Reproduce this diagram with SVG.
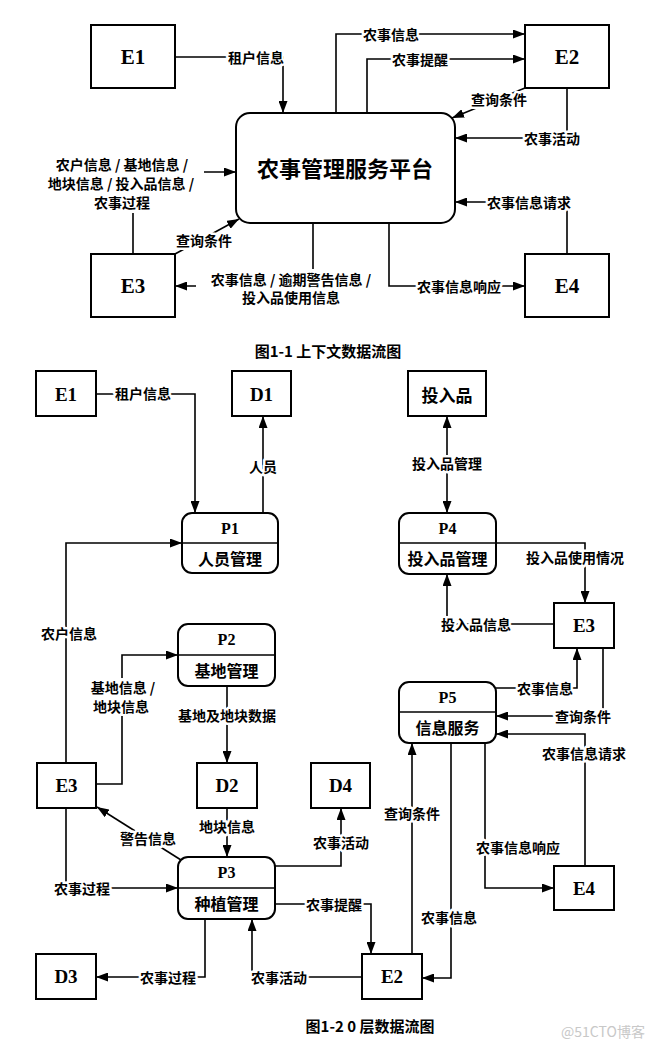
<svg xmlns="http://www.w3.org/2000/svg" width="656" height="1049" viewBox="0 0 656 1049">
<style>
.box{fill:#fff;stroke:#000;stroke-width:2}
.ln{fill:none;stroke:#000;stroke-width:1.6}
.id{font-family:"Liberation Serif","Times New Roman",serif;font-weight:bold;text-anchor:middle;dominant-baseline:central;fill:#000}
.nm{font-family:"Noto Sans CJK SC","Noto Sans",sans-serif;font-weight:bold;text-anchor:middle;dominant-baseline:central;fill:#000}
.lb{font-family:"Noto Sans CJK SC","Noto Sans",sans-serif;font-weight:bold;font-size:14px;text-anchor:middle;dominant-baseline:central;fill:#000;stroke:#fff;stroke-width:5;paint-order:stroke;stroke-linejoin:round}
.lb2{font-family:"Noto Sans CJK SC","Noto Sans",sans-serif;font-weight:bold;font-size:14px;text-anchor:middle;dominant-baseline:central;fill:#000}
.cap{font-family:"Noto Sans CJK SC","Noto Sans",sans-serif;font-weight:bold;font-size:15px;text-anchor:middle;dominant-baseline:central;fill:#000}
</style>
<defs>
<marker id="a" viewBox="0 0 12 9" refX="12" refY="4.5" markerWidth="12" markerHeight="9" markerUnits="userSpaceOnUse" orient="auto-start-reverse">
<path d="M0,0 L12,4.5 L0,9 z" fill="#000"/>
</marker>
</defs>
<rect width="656" height="1049" fill="#fff"/>

<!-- Top diagram nodes -->
<g id="t-E1"><rect class="box" x="91" y="25" width="84" height="63"/><text class="id" x="133" y="57" font-size="21">E1</text></g>
<g id="t-E2"><rect class="box" x="525" y="25" width="84" height="63"/><text class="id" x="567" y="57" font-size="21">E2</text></g>
<g id="t-E3"><rect class="box" x="91" y="254" width="84" height="63"/><text class="id" x="133" y="286" font-size="21">E3</text></g>
<g id="t-E4"><rect class="box" x="525" y="254" width="84" height="63"/><text class="id" x="567" y="286" font-size="21">E4</text></g>
<g id="t-platform"><rect class="box" x="236" y="113" width="219" height="110" rx="14"/><text class="nm" x="345" y="167" font-size="22">农事管理服务平台</text></g>

<!-- Bottom diagram nodes -->
<g id="b-E1"><rect class="box" x="36" y="371" width="60" height="45"/><text class="id" x="66" y="394" font-size="19">E1</text></g>
<g id="b-D1"><rect class="box" x="232" y="371" width="59" height="45"/><text class="id" x="261.5" y="394" font-size="19">D1</text></g>
<g id="b-TRP"><rect class="box" x="408" y="371" width="78" height="45"/><text class="nm" x="447" y="394" font-size="17">投入品</text></g>
<g id="b-P1"><rect class="box" x="182" y="513" width="96" height="60" rx="10"/><line class="ln" x1="182" y1="543" x2="278" y2="543" stroke-width="2"/><text class="id" x="230" y="528" font-size="16">P1</text><text class="nm" x="230" y="558" font-size="16">人员管理</text></g>
<g id="b-P4"><rect class="box" x="399" y="513" width="97" height="61" rx="10"/><line class="ln" x1="399" y1="543" x2="496" y2="543" stroke-width="2"/><text class="id" x="447.5" y="528" font-size="16">P4</text><text class="nm" x="447.5" y="558" font-size="16">投入品管理</text></g>
<g id="b-E3r"><rect class="box" x="554" y="603" width="60" height="45"/><text class="id" x="584" y="625.5" font-size="19">E3</text></g>
<g id="b-P2"><rect class="box" x="178" y="624" width="97" height="62" rx="10"/><line class="ln" x1="178" y1="655" x2="275" y2="655" stroke-width="2"/><text class="id" x="226.5" y="639" font-size="16">P2</text><text class="nm" x="226.5" y="670" font-size="16">基地管理</text></g>
<g id="b-P5"><rect class="box" x="399" y="682" width="97" height="61" rx="10"/><line class="ln" x1="399" y1="712" x2="496" y2="712" stroke-width="2"/><text class="id" x="447.5" y="697" font-size="16">P5</text><text class="nm" x="447.5" y="727" font-size="16">信息服务</text></g>
<g id="b-E3l"><rect class="box" x="37" y="763" width="59" height="45"/><text class="id" x="66.5" y="785.5" font-size="19">E3</text></g>
<g id="b-D2"><rect class="box" x="197" y="763" width="60" height="45"/><text class="id" x="227" y="785.5" font-size="19">D2</text></g>
<g id="b-D4"><rect class="box" x="311" y="763" width="59" height="45"/><text class="id" x="340.5" y="785.5" font-size="19">D4</text></g>
<g id="b-P3"><rect class="box" x="178" y="857" width="97" height="62" rx="10"/><line class="ln" x1="178" y1="888" x2="275" y2="888" stroke-width="2"/><text class="id" x="226.5" y="872" font-size="16">P3</text><text class="nm" x="226.5" y="903" font-size="16">种植管理</text></g>
<g id="b-E4"><rect class="box" x="554" y="866" width="60" height="44"/><text class="id" x="584" y="888" font-size="19">E4</text></g>
<g id="b-D3"><rect class="box" x="36" y="954" width="60" height="45"/><text class="id" x="66" y="976.5" font-size="19">D3</text></g>
<g id="b-E2"><rect class="box" x="362" y="954" width="60" height="45"/><text class="id" x="392" y="976.5" font-size="19">E2</text></g>

<!-- Connectors -->
<g id="connectors">
<path class="ln" d="M175,57 H283 V113" marker-end="url(#a)"/>
<path class="ln" d="M336,113 V34 H525" marker-end="url(#a)"/>
<path class="ln" d="M367,113 V59 H525" marker-end="url(#a)"/>
<path class="ln" d="M525,88 L452,118" marker-end="url(#a)"/>
<path class="ln" d="M567,88 V138 H455" marker-end="url(#a)"/>
<path class="ln" d="M567,254 V202 H455" marker-end="url(#a)"/>
<path class="ln" d="M389,223 V286 H525" marker-end="url(#a)"/>
<path class="ln" d="M313,223 V286 H175" marker-end="url(#a)"/>
<path class="ln" d="M133,254 V172 H236" marker-end="url(#a)"/>
<path class="ln" d="M175,254 L239,219" marker-end="url(#a)"/>

<path class="ln" d="M96,394 H195 V513" marker-end="url(#a)"/>
<path class="ln" d="M263,513 V416" marker-end="url(#a)"/>
<path class="ln" d="M66,763 V543 H182" marker-end="url(#a)"/>
<path class="ln" d="M447,416 V513" marker-start="url(#a)" marker-end="url(#a)"/>
<path class="ln" d="M496,543 H585 V603" marker-end="url(#a)"/>
<path class="ln" d="M554,624 H447 V574" marker-end="url(#a)"/>
<path class="ln" d="M496,688 H577 V648" marker-end="url(#a)"/>
<path class="ln" d="M603,648 V716 H496" marker-end="url(#a)"/>
<path class="ln" d="M585,866 V734 H496" marker-end="url(#a)"/>
<path class="ln" d="M412,954 V743" marker-end="url(#a)"/>
<path class="ln" d="M451,743 V978 H422" marker-end="url(#a)"/>
<path class="ln" d="M485,743 V888 H554" marker-end="url(#a)"/>
<path class="ln" d="M275,904 H371 V954" marker-end="url(#a)"/>
<path class="ln" d="M362,977 H252 V919" marker-end="url(#a)"/>
<path class="ln" d="M275,866 H341 V808" marker-end="url(#a)"/>
<path class="ln" d="M227,686 V763" marker-end="url(#a)"/>
<path class="ln" d="M96,784 H122 V655 H178" marker-end="url(#a)"/>
<path class="ln" d="M181,860 L97,807" marker-end="url(#a)"/>
<path class="ln" d="M66,808 V888 H178" marker-end="url(#a)"/>
<path class="ln" d="M205,919 V977 H96" marker-end="url(#a)"/>
<path class="ln" d="M227,808 V857" marker-end="url(#a)"/>

<!-- Labels top -->
<text class="lb" x="256" y="57">租户信息</text>
<text class="lb" x="391" y="34">农事信息</text>
<text class="lb" x="420" y="59">农事提醒</text>
<text class="lb" x="499" y="99">查询条件</text>
<text class="lb" x="552" y="138">农事活动</text>
<text class="lb" x="529" y="202">农事信息请求</text>
<text class="lb" x="459" y="286">农事信息响应</text>
<text class="lb" x="204" y="240">查询条件</text>
<rect x="196" y="269" width="190" height="38" fill="#fff"/>
<text class="lb2" x="291" y="279">农事信息 / 逾期警告信息 /</text>
<text class="lb2" x="291" y="297">投入品使用信息</text>
<rect x="34" y="153" width="170" height="60" fill="#fff"/>
<text class="lb2" x="122" y="164">农户信息 / 基地信息 /</text>
<text class="lb2" x="121" y="183">地块信息 / 投入品信息 /</text>
<text class="lb2" x="122" y="202">农事过程</text>

<!-- Labels bottom -->
<text class="lb" x="143" y="393">租户信息</text>
<text class="lb" x="263" y="466">人员</text>
<text class="lb" x="69" y="633">农户信息</text>
<text class="lb" x="447" y="463">投入品管理</text>
<text class="lb" x="575" y="557">投入品使用情况</text>
<text class="lb" x="476" y="624">投入品信息</text>
<text class="lb" x="545" y="688">农事信息</text>
<text class="lb" x="583" y="716">查询条件</text>
<text class="lb" x="584" y="753">农事信息请求</text>
<text class="lb" x="412" y="813">查询条件</text>
<text class="lb" x="449" y="917">农事信息</text>
<text class="lb" x="518" y="847">农事信息响应</text>
<text class="lb" x="334" y="904">农事提醒</text>
<text class="lb" x="279" y="977">农事活动</text>
<text class="lb" x="341" y="842">农事活动</text>
<text class="lb" x="227" y="715">基地及地块数据</text>
<rect x="84" y="678" width="78" height="38" fill="#fff"/>
<text class="lb2" x="123" y="687">基地信息 /</text>
<text class="lb2" x="121" y="706">地块信息</text>
<text class="lb" x="148" y="838">警告信息</text>
<text class="lb" x="82" y="888">农事过程</text>
<text class="lb" x="168" y="977">农事过程</text>
<text class="lb" x="227" y="826">地块信息</text>
</g>

<text class="cap" x="328" y="350">图1-1 上下文数据流图</text>
<text class="cap" x="370" y="1025">图1-2 0 层数据流图</text>
<text x="603" y="1031" font-family="Noto Sans CJK SC,Noto Sans,sans-serif" font-size="14" fill="#c8c8c8" text-anchor="middle" dominant-baseline="central">@51CTO博客</text>
</svg>
